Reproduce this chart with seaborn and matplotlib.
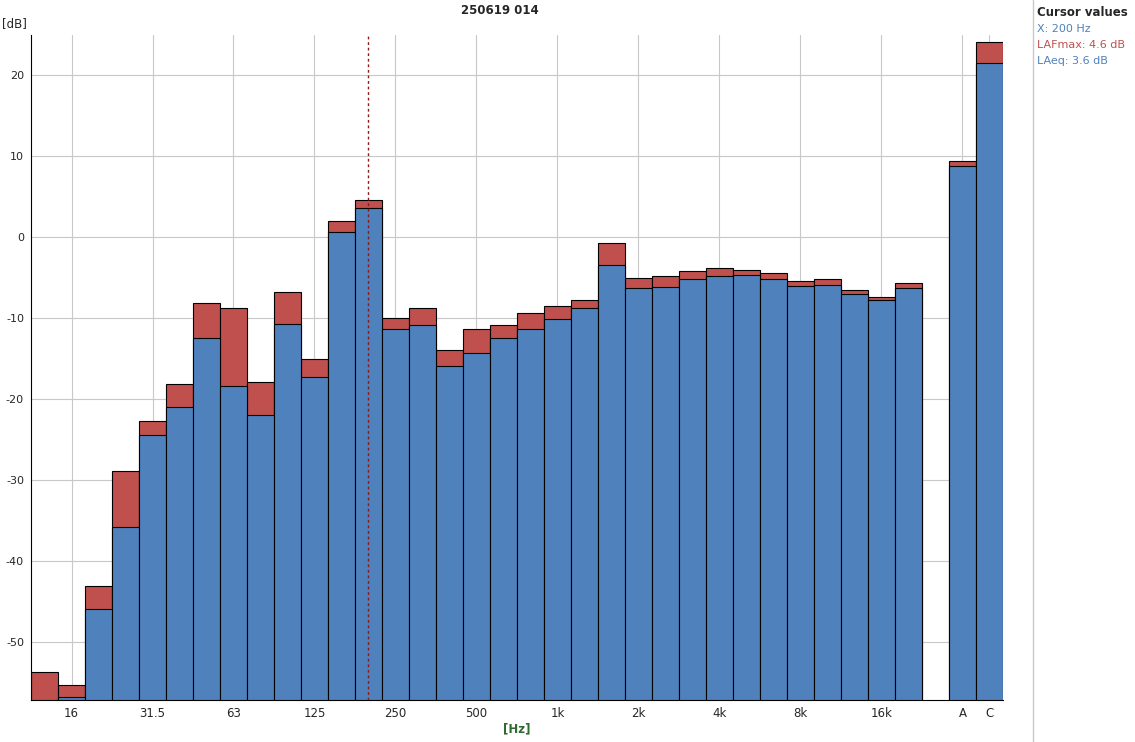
import matplotlib
matplotlib.use("Agg")
import matplotlib.pyplot as plt
import seaborn as sns
import pandas as pd
import numpy as np

bands = ["12.5","16","20","25","31.5","40","50","63","80","100","125","160","200","250","315","400","500","630","800","1k","1.25k","1.6k","2k","2.5k","3.15k","4k","5k","6.3k","8k","10k","12.5k","16k","20k","gap","A","C"]
laeq = [-58,-56.8,-46,-35.8,-24.5,-21,-12.4,-18.4,-22,-10.7,-17.3,0.6,3.6,-11.4,-10.8,-15.9,-14.3,-12.5,-11.3,-10.1,-8.7,-3.4,-6.3,-6.1,-5.2,-4.8,-4.7,-5.1,-6.0,-5.9,-7.0,-7.8,-6.3,np.nan,8.8,21.6]
lafmax = [-53.8,-55.3,-43.1,-28.9,-22.7,-18.2,-8.1,-8.7,-17.9,-6.8,-15.0,2.0,4.6,-10.0,-8.8,-13.9,-11.4,-10.8,-9.4,-8.5,-7.7,-0.7,-5.0,-4.8,-4.2,-3.8,-4.0,-4.4,-5.4,-5.2,-6.5,-7.4,-5.7,np.nan,9.4,24.1]
tick_labels = ["16","31.5","63","125","250","500","1k","2k","4k","8k","16k","A","C"]

ymin, ymax = -57.2, 25
sns.set_style("white")
plt.rcParams['font.family'] = ['DejaVu Sans']
fig = plt.figure(figsize=(11.35, 7.42), dpi=100)
ax = fig.add_axes([31/1135, 42/742, 972/1135, 665/742])

df = pd.DataFrame({"band": bands, "laeq": laeq, "lafmax": lafmax})
red = "#c0504d"; blue = "#4f81bd"
bottom_off = ymin - 5
df["mx"] = df["lafmax"] - bottom_off
df["eq"] = df["laeq"] - bottom_off
sns.barplot(data=df, x="band", y="mx", order=bands, color=red, width=1.0,
            edgecolor="black", linewidth=0.8, saturation=1, ax=ax, bottom=bottom_off)
sns.barplot(data=df, x="band", y="eq", order=bands, color=blue, width=1.0,
            edgecolor="black", linewidth=0.8, saturation=1, ax=ax, bottom=bottom_off)

ax.set_ylim(ymin, ymax)
ax.set_xlim(-0.5, len(bands) - 0.5)
ticks = [bands.index(t) for t in tick_labels]
ax.set_xticks(ticks)
ax.set_xticklabels(tick_labels, fontsize=8.5)
ax.set_yticks(range(-50, 30, 10))
ax.set_yticklabels([f"{v}" for v in range(-50, 30, 10)], fontsize=8)
ax.tick_params(axis='y', length=3, pad=2)
ax.tick_params(axis='x', length=3, pad=2)
ax.set_axisbelow(True)
for t in ticks:
    ax.axvline(t, color="#c8c8c8", lw=0.8, zorder=0)
for y in range(-50, 30, 10):
    ax.axhline(y, color="#c8c8c8", lw=0.8, zorder=0)
ax.axvline(bands.index("200"), color="#8b1a1a", lw=1, ls=(0, (2, 2)), zorder=5)
for s in ["top", "right"]:
    ax.spines[s].set_visible(False)
ax.spines["left"].set_color("black"); ax.spines["bottom"].set_color("black")
ax.set_xlabel("[Hz]", fontsize=8.5, fontweight="bold", color="#2e6b2e", labelpad=2)
ax.set_ylabel("")
fig.text(2/1135, 1 - 27/742, "[dB]", fontsize=8.5)
fig.text(500/1135, 1 - 14/742, "250619 014", fontsize=8.5, fontweight="bold", ha="center")
fig.add_artist(plt.Line2D([1033/1135, 1033/1135], [0, 1], color="#c8c8c8", lw=1))
fig.text(1037/1135, 1 - 16/742, "Cursor values", fontsize=8.5, fontweight="bold")
fig.text(1037/1135, 1 - 32/742, "X: 200 Hz", fontsize=8, color=blue)
fig.text(1037/1135, 1 - 48/742, "LAFmax: 4.6 dB", fontsize=8, color=red)
fig.text(1037/1135, 1 - 64/742, "LAeq: 3.6 dB", fontsize=8, color=blue)
fig.savefig("out.png", dpi=100)
